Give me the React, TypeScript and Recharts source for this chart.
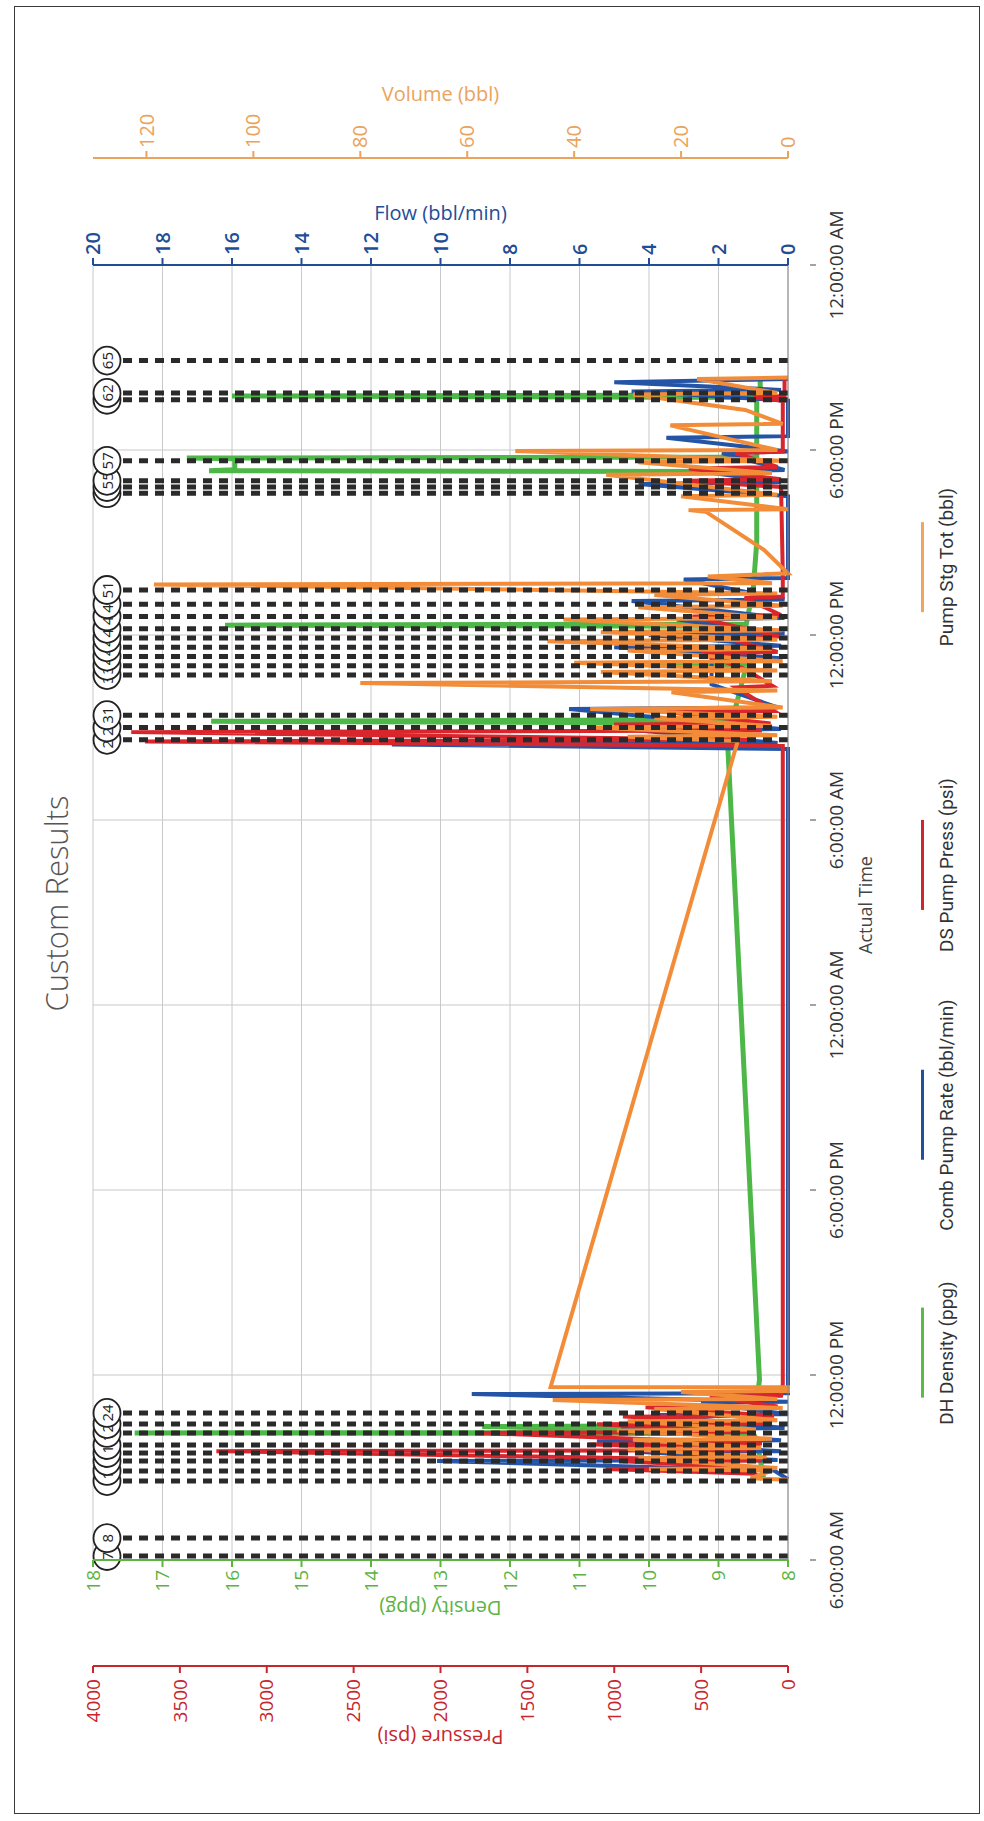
import React from 'react'
import { LineChart, Line, XAxis, YAxis, CartesianGrid, ReferenceLine } from 'recharts'

const FONT = '"Open Sans", "DejaVu Sans", sans-serif'
const W = 1821
const H = 984

// time axis: hours counted from 6:00:00 AM of the first day
const timeTicks = [0, 6, 12, 18, 24, 30, 36, 42]
const hourTicks = [0, 1, 2, 3, 4, 5, 6, 7, 8, 9, 10, 11, 12, 13, 14, 15, 16, 17, 18, 19, 20, 21, 22, 23, 24, 25, 26, 27, 28, 29, 30, 31, 32, 33, 34, 35, 36, 37, 38, 39, 40, 41, 42]
const flowTicks = [0, 2, 4, 6, 8, 10, 12, 14, 16, 18, 20]
const volumeTicks = [0, 20, 40, 60, 80, 100, 120]
const densityTicks = [8, 9, 10, 11, 12, 13, 14, 15, 16, 17, 18]
const densityMinorTicks = [8, 8.25, 8.5, 8.75, 9, 9.25, 9.5, 9.75, 10, 10.25, 10.5, 10.75, 11, 11.25, 11.5, 11.75, 12, 12.25, 12.5, 12.75, 13, 13.25, 13.5, 13.75, 14, 14.25, 14.5, 14.75, 15, 15.25, 15.5, 15.75, 16, 16.25, 16.5, 16.75, 17, 17.25, 17.5, 17.75, 18]
const pressureTicks = [0, 500, 1000, 1500, 2000, 2500, 3000, 3500, 4000]

// DH Density (ppg)
const densT = [2.62, 3.9, 4.1, 4.12, 4.15, 4.33, 4.36, 5.84, 26.56, 27.15, 27.2, 27.25, 29.0, 29.03, 29.06, 30.28, 30.32, 30.36, 31.5, 33.0, 35.3, 35.33, 35.36, 35.72, 35.74, 35.77, 37.7, 37.75, 37.78, 38.3]
const densV = [8.35, 8.45, 8.5, 17.4, 8.6, 12.4, 8.5, 8.41, 8.87, 8.8, 16.3, 8.8, 8.6, 10.0, 8.6, 8.7, 16.1, 8.6, 8.5, 8.45, 8.45, 16.33, 15.96, 15.96, 16.65, 8.45, 8.45, 16.0, 8.4, 8.4]

// Comb Pump Rate (bbl/min)
const flowT = [2.62, 2.9, 3.21, 3.24, 3.5, 3.53, 3.85, 3.88, 4.25, 4.28, 4.7, 4.73, 5.1, 5.13, 5.38, 5.41, 5.7, 26.3, 26.45, 26.5, 26.9, 26.95, 27.6, 27.65, 28.4, 29.2, 29.25, 29.6, 29.65, 30.0, 30.05, 30.5, 30.55, 31.1, 31.15, 31.8, 31.85, 34.5, 34.9, 34.95, 35.3, 35.35, 35.9, 35.95, 36.4, 36.45, 37.6, 37.9, 37.95, 38.2, 38.3]
const flowV = [0, 0.4, 10.1, 0.3, 4.2, 0.2, 5.5, 0.2, 4.8, 0.1, 3.8, 0, 2.5, 0, 9.1, 0, 0, 0, 11.4, 0.3, 4.3, 0.2, 6.3, 0.3, 2.2, 2.2, 0.2, 5.0, 0.2, 4.0, 0.1, 3.2, 0.1, 4.5, 0.1, 3.0, 0, 0, 4.3, 0.2, 2.5, 0.1, 1.9, 0, 3.5, 0, 0, 4.5, 0.2, 5.0, 0]

// DS Pump Press (psi)
const pressT = [2.62, 2.8, 2.95, 2.98, 3.2, 3.23, 3.53, 3.56, 3.75, 3.78, 4.12, 4.15, 4.4, 4.43, 4.65, 4.68, 4.95, 4.98, 5.3, 5.33, 5.7, 26.4, 26.55, 26.6, 26.85, 26.9, 27.1, 27.13, 27.5, 27.53, 28.3, 28.35, 28.9, 29.4, 29.45, 29.9, 29.95, 30.6, 30.65, 31.2, 31.25, 32.0, 34.8, 35.0, 35.05, 35.4, 35.45, 35.9, 35.95, 37.6, 37.7, 37.75, 38.3]
const pressV = [150, 190, 1050, 180, 950, 150, 3290, 200, 1150, 150, 1790, 200, 1100, 120, 950, 80, 820, 60, 450, 40, 30, 30, 3700, 200, 3780, 150, 1000, 100, 700, 80, 300, 90, 250, 500, 60, 350, 50, 550, 40, 250, 30, 30, 40, 600, 40, 570, 60, 300, 30, 30, 200, 20, 20]

// Pump Stg Tot (bbl)
const volT = [2.6, 2.65, 2.9, 2.95, 2.98, 3.3, 3.33, 3.6, 3.63, 3.9, 3.93, 4.2, 4.23, 4.5, 4.53, 4.9, 4.93, 5.19, 5.22, 5.45, 5.48, 5.6, 5.61, 26.56, 26.7, 26.75, 27.0, 27.05, 27.3, 27.35, 27.6, 27.65, 28.14, 28.2, 28.44, 28.5, 28.8, 28.85, 29.1, 29.15, 29.5, 29.55, 29.8, 29.85, 30.1, 30.15, 30.5, 30.55, 30.9, 30.95, 31.3, 31.35, 31.64, 31.68, 31.9, 32.0, 32.76, 34.0, 34.05, 34.08, 34.5, 34.55, 35.2, 35.25, 35.6, 35.65, 35.97, 36.0, 36.8, 36.85, 37.3, 37.8, 37.85, 38.3, 38.35]
const volV = [0, 7, 3, 26, 2, 28, 4, 30, 5, 29, 3, 32, 6, 30, 2, 25, 1, 44, 2, 20, 0, 0, 44.4, 9.4, 30, 2, 37, 3, 25, 2, 37, 1, 21.8, 2, 80, 3, 35, 2, 40, 1, 30, 3, 45, 2, 35, 1, 42, 2, 28, 1, 25, 2, 118.6, 3, 15, 0, 4.5, 15.4, 18.6, 0, 20, 2, 34, 3, 28, 1, 51, 2, 22, 1, 8, 29, 2, 17, 0]

// event markers
const markerT = [0.13, 0.71, 2.56, 2.89, 3.21, 3.47, 3.73, 4.12, 4.41, 4.77, 26.6, 27.0, 27.4, 28.7, 29.0, 29.3, 29.6, 29.9, 30.2, 30.6, 31.0, 31.46, 34.6, 34.8, 35.0, 35.65, 37.63, 37.85, 38.9]
const markerN = ['7', '8', '1', '11', '13', '15', '17', '19', '22', '24', '27', '29', '31', '36', '39', '41', '43', '44', '45', '47', '49', '51', '53', '54', '55', '57', '61', '62', '65']

const legendNames = ['DH Density (ppg)', 'Comb Pump Rate (bbl/min)', 'DS Pump Press (psi)', 'Pump Stg Tot (bbl)']
const legendColors = ['#5cba46', '#23509e', '#cc2630', '#f0a55e']
const legendCenters = [468, 706, 956, 1254]

const GREEN = '#4db848'
const BLUE = '#2454a6'
const RED = '#d8262c'
const ORANGE = '#f28c38'

const toRows = (ts: number[], vs: number[]) => ts.map((t, i) => ({ t, v: vs[i] }))
const densData = toRows(densT, densV)
const flowData = toRows(flowT, flowV)
const pressData = toRows(pressT, pressV)
const volData = toRows(volT, volV)

const clock = (t: number) => {
  const h = (6 + t) % 24
  const h12 = h % 12 === 0 ? 12 : h % 12
  return `${h12}:00:00 ${h < 12 ? 'AM' : 'PM'}`
}

const AxisTitle = (props: any) => {
  const { viewBox, text, shiftX = 0, shiftY, rot = 0, color, size = 20 } = props
  if (!viewBox) return null
  const cx = viewBox.x + shiftX
  const cy = shiftY === undefined ? viewBox.y + viewBox.height / 2 : viewBox.y + shiftY
  return (
    <text x={cx} y={cy} transform={`rotate(${rot} ${cx} ${cy})`} textAnchor="middle" dominantBaseline="central" fill={color} fontSize={size}>
      {text}
    </text>
  )
}

// major time tick: a short detached dash, then the clock label
const TimeTick = (props: any) => {
  const { x, y, payload } = props
  return (
    <g>
      <line x1={x} y1={y + 14} x2={x} y2={y + 20} stroke="#666" strokeWidth={1.2} />
      <text x={x} y={y + 40} textAnchor="middle" dominantBaseline="central" fontSize={19} fill="#333">{clock(payload.value)}</text>
    </g>
  )
}

const Badge = (props: any) => {
  const { viewBox, n } = props
  if (!viewBox) return null
  const x = viewBox.x
  const y = viewBox.y + 14
  return (
    <g>
      <ellipse cx={x} cy={y} rx={14} ry={13.5} fill="#fff" stroke="#222" strokeWidth={1.8} />
      <text x={x} y={y} textAnchor="middle" dominantBaseline="central" fontSize={15} fill="#222">{n}</text>
    </g>
  )
}

export default function App() {
  return (
    <div style={{ position: 'absolute', left: 0, top: 0, width: 984, height: 1821, background: '#fff', overflow: 'hidden', fontFamily: FONT }}>
      <div style={{ position: 'absolute', left: 14, top: 6, width: 966, height: 1808, border: '1.5px solid #3a3a3a', boxSizing: 'border-box' }} />
      <div style={{ position: 'absolute', left: 0, top: 0, width: W, height: H, transformOrigin: '0 0', transform: `translateY(${W}px) rotate(-90deg)` }}>
        <div style={{ position: 'absolute', left: 270, width: 1295, top: 35, textAlign: 'center', fontSize: 31, color: '#555', fontWeight: 300 }}>
          Custom Results
        </div>
        <LineChart width={W} height={H} margin={{ top: 93, right: 58, bottom: 96, left: 60 }}>
          <CartesianGrid xAxisId="time" yAxisId="flow" stroke="#c8c8c8" strokeWidth={1} />
          <XAxis xAxisId="minor" dataKey="t" type="number" domain={[0, 42]} ticks={hourTicks} interval={0} height={0} axisLine={false} tickSize={6} tickFormatter={() => ''} tickLine={{ stroke: '#666' }} />
          <XAxis
            xAxisId="time" dataKey="t" type="number" domain={[0, 42]} ticks={timeTicks} interval={0} height={100}
            tickLine={false} stroke="#8a8a8a" tick={<TimeTick />}
            label={<AxisTitle text="Actual Time" shiftX={655} shiftY={77} color="#444" size={18} />}
          />
          <YAxis yAxisId="densMinor" orientation="left" domain={[8, 18]} ticks={densityMinorTicks} interval={0} width={0} axisLine={false} tickSize={5} tickFormatter={() => ''} tickLine={{ stroke: '#5cb342' }} />
          <YAxis
            yAxisId="dens" orientation="left" domain={[8, 18]} ticks={densityTicks} interval={0} width={106}
            stroke="#5cb342" strokeWidth={2} tickSize={7} tickMargin={3} tick={{ fill: '#5cb342', fontSize: 19 }}
            label={<AxisTitle text="Density (ppg)" shiftX={58} rot={-90} color="#5cb342" />}
          />
          <YAxis
            yAxisId="press" orientation="left" domain={[0, 4000]} ticks={pressureTicks} interval={0} width={95}
            stroke="#c8252c" strokeWidth={2} tickSize={7} tickMargin={6} tick={{ fill: '#c8252c', fontSize: 19 }}
            label={<AxisTitle text="Pressure (psi)" shiftX={24} rot={-90} color="#c8252c" />}
          />
          <YAxis
            yAxisId="flow" orientation="right" domain={[0, 20]} ticks={flowTicks} interval={0} width={107}
            stroke="#1f4e96" strokeWidth={2} tickSize={7} tickMargin={3} tick={{ fill: '#1f4e96', fontSize: 20, fontWeight: 600 }}
            label={<AxisTitle text="Flow (bbl/min)" shiftX={53} rot={90} color="#1f4e96" />}
          />
          <YAxis
            yAxisId="vol" orientation="right" domain={[0, 130]} ticks={volumeTicks} interval={0} width={100}
            stroke="#eba35c" strokeWidth={2} tickSize={7} tickMargin={3} tick={{ fill: '#eba35c', fontSize: 20 }}
            label={<AxisTitle text="Volume (bbl)" shiftX={65} rot={90} color="#eba35c" />}
          />
          <Line data={densData} dataKey="v" xAxisId="time" yAxisId="dens" type="linear" stroke={GREEN} strokeWidth={5} dot={false} isAnimationActive={false} />
          <Line data={flowData} dataKey="v" xAxisId="time" yAxisId="flow" type="linear" stroke={BLUE} strokeWidth={4} dot={false} isAnimationActive={false} />
          <Line data={pressData} dataKey="v" xAxisId="time" yAxisId="press" type="linear" stroke={RED} strokeWidth={4} dot={false} isAnimationActive={false} />
          <Line data={volData} dataKey="v" xAxisId="time" yAxisId="vol" type="linear" stroke={ORANGE} strokeWidth={4} dot={false} isAnimationActive={false} />
          {markerT.map((t, i) => (
            <ReferenceLine key={`m-${i}`} x={t} xAxisId="time" yAxisId="flow" stroke="#2a2a2a" strokeWidth={5} strokeDasharray="9 7" label={<Badge n={markerN[i]} />} />
          ))}
        </LineChart>
        {legendNames.map((name, i) => (
          <div key={name} style={{ position: 'absolute', left: legendCenters[i], top: 921, transform: 'translateX(-50%)', display: 'flex', flexDirection: 'column', alignItems: 'center', whiteSpace: 'nowrap' }}>
            <div style={{ width: 90, height: 2.5, background: legendColors[i] }} />
            <div style={{ marginTop: 12, fontSize: 19, lineHeight: '22px', color: '#333', fontFamily: 'Roboto, sans-serif' }}>{name}</div>
          </div>
        ))}
      </div>
    </div>
  )
}
